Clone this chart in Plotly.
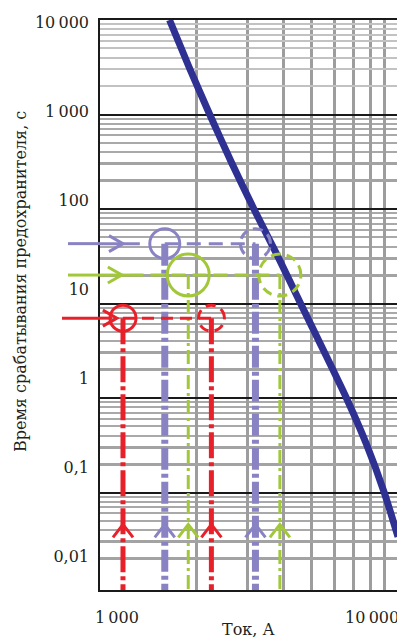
import plotly.graph_objects as go

# ---------------- data ----------------
# Fuse time-current characteristic (current, A ; melting time, s)
curve_current = [1610, 1880, 2220, 2640, 3160, 3830, 4590, 5510, 6620, 7760, 8960, 10000]
curve_time = [10000, 3200, 1000, 312, 100, 31.3, 10, 3.2, 1, 0.328, 0.1, 0.034]

# Three fuse examples: operating time and two currents (solid circle / dashed circle)
ex_names = ["purple", "green", "red"]
ex_time = [43, 20, 7]
ex_current_1 = [1550, 1870, 1110]
ex_current_2 = [3200, 3890, 2250]
ex_solid_end = [1270, 1170, 1016]      # end of solid part of incoming arrow
ex_arrow_tip = [1110, 1100, 1057]      # tip of horizontal arrowhead
ex_up_arrow_time = 0.046               # tip of upward arrowheads

# Axis tick labels
x_tick_vals = [1000, 10000]
x_tick_text = ["1\u2009000", "10\u2009000"]
y_tick_vals = [10000, 1000, 100, 10, 1, 0.1, 0.01]
y_tick_text = ["10\u2009000", "1\u2009000", "100", "10", "1", "0,1", "0,01"]

# Grid
x_grid = [2000, 3000, 4000, 5000, 6000, 7000, 8000, 9000]
decades = [0.01, 0.1, 1, 10, 100]
y_grid_thick = [m * d for d in decades for m in (2, 3)]
y_grid_thin = [m * d for d in decades for m in (4, 5, 6, 7, 8, 9)]
y_grid_top = [m * 1000 for m in (2, 3, 4, 5, 6, 7, 8, 9)]
y_black = [0.1, 1, 10, 100, 1000]

X_RANGE = [2.9655, 4.0]
Y_RANGE = [-2.0316, 4.0]
X2_RANGE = [2.9339, 4.1012]
Y2_RANGE = [-2.379, 4.030]

colors = {"purple": "#8983c3", "green": "#a2c83a", "red": "#e8202a"}
circle_r = {"purple": 15, "green": 21, "red": 13}
vwidth = {"purple": 7, "green": 3, "red": 5}
vdash = {"purple": "22px,4px,4px,4px", "green": "14px,4px,3px,4px", "red": "26px,4px,4px,4px"}
hdash = {"purple": "14px,8px", "green": "14px,7px", "red": "12px,7px"}
margin_start = {"purple": -32, "green": -32, "red": -38}

FONT = "DejaVu Serif"
TXT = "#231f20"


def circle_path(r):
    k = 0.5523 * r
    return (f"M{r},0 C{r},{k} {k},{r} 0,{r} C{-k},{r} {-r},{k} {-r},0 "
            f"C{-r},{-k} {-k},{-r} 0,{-r} C{k},{-r} {r},{-k} {r},0 Z")


fig = go.Figure()

fig.add_trace(go.Scatter(
    x=curve_current, y=curve_time, mode="lines",
    line=dict(color="#2e3192", width=7, shape="spline", smoothing=0.6),
    hoverinfo="skip", showlegend=False))

# helper (invisible) traces so overlay axes are drawn
fig.add_trace(go.Scatter(x=x_tick_vals, y=y_tick_vals[:2], xaxis="x2", yaxis="y2",
                         mode="lines", line=dict(width=0), opacity=0,
                         hoverinfo="skip", showlegend=False))
for ya in ("y3", "y4"):
    fig.add_trace(go.Scatter(x=x_tick_vals, y=y_tick_vals[:2], xaxis="x", yaxis=ya,
                             mode="lines", line=dict(width=0), opacity=0,
                             hoverinfo="skip", showlegend=False))

shapes = []
y_bottom = 10 ** Y_RANGE[0]
x_left = 10 ** X_RANGE[0]
for i, n in enumerate(ex_names):
    c = colors[n]
    t = ex_time[i]
    # part of incoming line in the left margin
    shapes.append(dict(type="line", xref="paper", xsizemode="pixel", xanchor=0,
                       x0=margin_start[n], x1=0, yref="y", y0=t, y1=t,
                       line=dict(color=c, width=3)))
    # solid part inside plot
    shapes.append(dict(type="line", xref="x", yref="y", x0=x_left, x1=ex_solid_end[i],
                       y0=t, y1=t, line=dict(color=c, width=3)))
    # dashed part
    d_start = ex_solid_end[i] if n == "green" else ex_current_1[i]
    shapes.append(dict(type="line", xref="x", yref="y", x0=d_start, x1=ex_current_2[i],
                       y0=t, y1=t, line=dict(color=c, width=3, dash=hdash[n])))
    # horizontal arrowhead
    shapes.append(dict(type="path", xref="x", yref="y", xsizemode="pixel", ysizemode="pixel",
                       xanchor=ex_arrow_tip[i], yanchor=t,
                       path="M-14,8 L0,0 L-14,-8", line=dict(color=c, width=3)))
    # vertical dash-dot lines and upward arrowheads
    for cur in (ex_current_1[i], ex_current_2[i]):
        shapes.append(dict(type="line", xref="x", yref="y", x0=cur, x1=cur,
                           y0=t, y1=y_bottom,
                           line=dict(color=c, width=vwidth[n], dash=vdash[n])))
        shapes.append(dict(type="path", xref="x", yref="y", xsizemode="pixel", ysizemode="pixel",
                           xanchor=cur, yanchor=ex_up_arrow_time,
                           path="M-10,-13 L0,0 L10,-13", line=dict(color=c, width=3)))
    r = circle_r[n]
    shapes.append(dict(type="path", xref="x", yref="y", xsizemode="pixel", ysizemode="pixel",
                       xanchor=ex_current_1[i], yanchor=t, path=circle_path(r),
                       line=dict(color=c, width=3)))
    shapes.append(dict(type="path", xref="x", yref="y", xsizemode="pixel", ysizemode="pixel",
                       xanchor=ex_current_2[i], yanchor=t, path=circle_path(r),
                       line=dict(color=c, width=3, dash="10px,6px")))

annotations = [
    dict(text="Время срабатывания предохранителя, с", textangle=-90,
         xref="paper", yref="paper", x=-0.267, y=0.541, showarrow=False,
         xanchor="center", yanchor="middle", font=dict(family=FONT, size=16, color=TXT)),
    dict(text="Ток, А", xref="paper", yref="paper", x=0.497, y=-0.0698, showarrow=False,
         xanchor="center", yanchor="middle", font=dict(family=FONT, size=16, color=TXT)),
]

fig.update_layout(
    width=397, height=634,
    margin=dict(l=92, r=5, t=9, b=52),
    paper_bgcolor="white", plot_bgcolor="white",
    showlegend=False,
    shapes=shapes, annotations=annotations,
    xaxis=dict(type="log", range=X_RANGE, tickmode="array", tickvals=x_grid,
               showticklabels=False, ticks="", showgrid=True, gridcolor="#9d9d9d",
               gridwidth=3, showline=True, linecolor="#1a1a1a", linewidth=1.5,
               mirror=True, zeroline=False),
    yaxis=dict(type="log", range=Y_RANGE, tickmode="array", tickvals=y_grid_thick,
               showticklabels=False, ticks="", showgrid=True, gridcolor="#a3a3a3",
               gridwidth=3, showline=True, linecolor="#1a1a1a", linewidth=1.5,
               mirror=True, zeroline=False,
               minor=dict(tickmode="array", tickvals=y_grid_thin, showgrid=True,
                          gridcolor="#a9a9a9", gridwidth=1.8, ticks="")),
    yaxis3=dict(type="log", range=Y_RANGE, overlaying="y", tickmode="array",
                tickvals=y_black, showticklabels=False, ticks="", showgrid=True,
                gridcolor="#1a1a1a", gridwidth=1.5, showline=False, zeroline=False),
    yaxis4=dict(type="log", range=Y_RANGE, overlaying="y", tickmode="array",
                tickvals=y_grid_top, showticklabels=False, ticks="", showgrid=True,
                gridcolor="#c2c2c2", gridwidth=2, showline=False, zeroline=False),
    yaxis2=dict(type="log", range=Y2_RANGE, overlaying="y", side="left", anchor="x",
                tickmode="array", tickvals=y_tick_vals, ticktext=y_tick_text,
                showgrid=False, ticks="", showline=False, zeroline=False,
                ticklabelstandoff=10,
                tickfont=dict(family=FONT, size=16, color=TXT)),
    xaxis2=dict(type="log", range=X2_RANGE, overlaying="x", side="bottom", anchor="y",
                tickmode="array", tickvals=x_tick_vals, ticktext=x_tick_text,
                showgrid=False, ticks="", showline=False, zeroline=False,
                ticklabelstandoff=16,
                tickfont=dict(family=FONT, size=16, color=TXT)),
)

fig.write_html("out.html")
